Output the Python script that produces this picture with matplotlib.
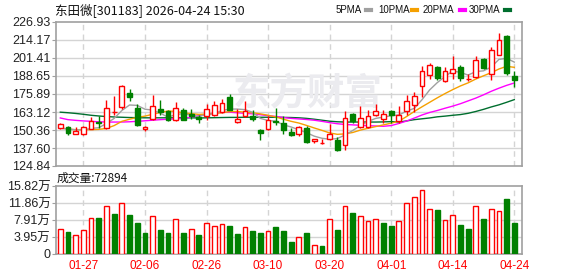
import numpy as np
import matplotlib
matplotlib.use('Agg')
from matplotlib import pyplot as plt

plt.rcParams['font.family'] = ['Liberation Sans', 'Noto Sans CJK SC', 'DejaVu Sans']

title = '东田微[301183] 2026-04-24 15:30'
vol_title = '成交量:72894'
date_pos = [3, 11, 19, 27, 35, 43, 51, 59]
date_labels = ['01-27', '02-06', '02-26', '03-10', '03-20', '04-01', '04-14', '04-24']

opens = [151.8, 152.5, 147.8, 147.5, 151.3, 155.8, 151.8, 163.0, 166.7, 176.8,
         166.0, 150.8, 158.4, 165.3, 163.6, 157.7, 164.5, 161.9, 159.6, 160.5,
         161.2, 163.1, 174.0, 156.3, 160.5, 160.5, 150.6, 151.1, 157.0, 155.3,
         148.7, 147.8, 151.8, 142.3, 141.0, 144.0, 143.1, 140.0, 161.7, 152.3,
         152.5, 160.8, 158.5, 163.6, 156.5, 164.1, 168.3, 181.3, 189.6, 195.0,
         184.9, 190.8, 195.0, 186.6, 187.9, 200.7, 190.3, 203.8, 217.2, 188.9]
closes = [154.6, 148.3, 149.9, 152.3, 156.5, 155.4, 166.0, 163.3, 181.8, 173.8,
          154.2, 152.5, 167.4, 162.9, 157.7, 166.0, 157.7, 160.1, 158.2, 165.3,
          168.1, 169.5, 164.8, 158.2, 163.6, 158.2, 148.3, 157.2, 155.8, 150.6,
          147.1, 152.5, 141.6, 144.0, 141.2, 147.8, 136.4, 158.9, 156.5, 158.9,
          160.1, 164.1, 161.5, 161.0, 161.2, 170.7, 174.2, 191.9, 196.2, 187.2,
          191.9, 193.6, 187.2, 186.8, 199.7, 194.3, 206.8, 214.4, 190.8, 186.0]
highs = [155.3, 153.0, 152.3, 153.0, 159.4, 160.1, 171.9, 174.7, 182.5, 179.7,
         168.8, 153.0, 175.4, 171.9, 164.8, 170.0, 166.0, 165.3, 161.2, 169.0,
         170.7, 172.3, 176.1, 165.3, 170.7, 164.8, 151.3, 160.1, 166.0, 160.5,
         151.8, 153.0, 153.5, 144.0, 144.0, 154.9, 145.4, 163.6, 162.4, 167.1,
         164.3, 169.0, 164.8, 164.8, 167.1, 175.0, 177.3, 195.5, 197.9, 195.5,
         194.8, 202.6, 196.2, 190.1, 202.6, 201.4, 209.0, 219.1, 217.9, 191.9]
lows = [151.1, 146.8, 147.8, 146.8, 151.3, 151.8, 151.1, 161.2, 165.3, 170.7,
        153.0, 149.4, 157.7, 161.2, 156.5, 156.5, 157.2, 158.2, 155.3, 157.2,
        160.1, 162.4, 164.3, 155.3, 159.6, 157.0, 143.5, 150.6, 154.1, 147.8,
        146.4, 145.9, 141.2, 141.2, 140.7, 143.5, 135.3, 135.9, 155.3, 151.8,
        151.8, 160.1, 155.3, 155.3, 155.3, 161.2, 162.9, 173.8, 186.8, 185.6,
        184.2, 186.8, 185.3, 184.9, 187.2, 193.9, 186.0, 203.8, 189.1, 180.6]

ma5 = [151.6, 151.0, 150.5, 150.4, 151.5, 152.0, 155.0, 158.6, 164.2, 168.1,
       167.8, 165.1, 164.5, 162.2, 159.5, 161.3, 162.0, 160.9, 159.9, 161.5,
       161.9, 164.2, 165.2, 165.2, 164.8, 162.9, 158.6, 157.1, 156.6, 154.0,
       152.5, 150.5, 148.5, 146.0, 144.5, 143.8, 144.3, 146.8, 150.0, 153.5,
       156.5, 158.6, 159.5, 160.5, 161.0, 163.7, 165.7, 171.8, 178.8, 184.0,
       188.3, 192.2, 191.2, 189.3, 191.8, 192.3, 195.0, 200.4, 201.2, 198.5]
ma10 = [152.0, 151.0, 150.6, 150.6, 150.6, 150.8, 151.5, 153.5, 156.5, 158.0,
        159.3, 160.2, 161.5, 162.8, 163.8, 163.6, 162.4, 162.0, 161.4, 161.6,
        162.2, 162.6, 163.4, 163.5, 163.0, 162.6, 161.8, 160.8, 159.6, 158.0,
        156.5, 155.3, 153.6, 151.8, 150.1, 148.3, 147.3, 147.6, 148.6, 150.3,
        151.6, 152.8, 154.0, 155.2, 156.6, 159.9, 163.5, 166.8, 170.0, 173.2,
        176.2, 179.0, 181.6, 183.8, 186.5, 188.8, 191.0, 193.6, 195.5, 194.8]
ma20 = [158.9, 157.7, 157.2, 156.8, 156.5, 156.2, 156.0, 156.0, 156.0, 156.2,
        156.5, 156.9, 157.3, 157.7, 158.0, 158.3, 158.6, 159.5, 160.5, 161.5,
        162.3, 162.8, 163.0, 162.6, 162.2, 161.8, 161.2, 160.5, 160.0, 159.2,
        158.6, 158.2, 157.8, 157.3, 156.5, 155.6, 154.8, 154.3, 154.0, 153.7,
        153.4, 153.2, 153.0, 153.5, 155.0, 156.7, 158.8, 161.0, 162.8, 164.2,
        165.8, 167.3, 169.0, 171.0, 173.0, 175.3, 177.8, 180.0, 182.0, 183.7]
ma30 = [163.0, 162.6, 162.1, 161.5, 160.8, 160.3, 159.9, 159.6, 159.4, 159.2,
        159.1, 159.0, 159.0, 159.0, 159.0, 159.0, 159.0, 159.0, 158.9, 159.0,
        159.1, 159.2, 159.3, 159.3, 159.4, 159.4, 159.4, 159.4, 159.4, 159.3,
        159.2, 159.0, 158.6, 158.0, 157.3, 156.6, 156.2, 156.0, 156.0, 156.0,
        156.0, 156.0, 156.1, 156.3, 156.0, 156.8, 157.7, 158.3, 158.9, 159.7,
        160.2, 160.8, 161.3, 162.2, 163.5, 165.0, 166.7, 168.2, 170.0, 171.9]

# volume in 万 (10k shares)
volumes = [5.87, 5.09, 4.46, 5.64, 8.46, 8.30, 11.28, 9.24, 11.82, 9.00,
           7.13, 4.78, 8.93, 5.48, 4.78, 8.22, 4.78, 5.87, 4.31, 7.28,
           6.58, 7.05, 6.42, 4.54, 6.34, 5.25, 4.78, 5.40, 6.19, 5.25,
           2.74, 3.84, 4.86, 2.19, 1.96, 8.07, 5.56, 11.12, 9.55, 8.77,
           7.60, 8.07, 7.20, 6.50, 7.60, 11.82, 13.23, 14.88, 10.42, 10.26,
           7.83, 9.00, 6.73, 5.79, 11.12, 8.14, 10.42, 9.94, 12.84, 7.29]
vol_up = [1, 0, 1, 1, 1, 0, 1, 0, 1, 0,
          0, 0, 1, 0, 0, 1, 0, 1, 0, 1,
          1, 1, 0, 0, 1, 0, 0, 1, 0, 0,
          0, 1, 0, 1, 0, 1, 0, 1, 0, 1,
          1, 1, 0, 0, 1, 1, 1, 1, 1, 0,
          1, 1, 0, 0, 1, 0, 1, 1, 0, 0]

price_ticks = [124.84, 137.60, 150.36, 163.12, 175.89, 188.65, 201.41, 214.17, 226.93]
vol_ticks = [0, 3.95, 7.91, 11.86, 15.82]
vol_tick_labels = ['0', '3.95万', '7.91万', '11.86万', '15.82万']

legend_names = ['5PMA', '10PMA', '20PMA', '30PMA']

RED = '#ff0000'
GREEN = '#008000'
MA_COLORS = ['#a0a0a0', '#f5a000', '#ff00ff', '#006e2e']
FRAME = '#a0a0a0'
GRID = '#d4d4d4'

W, H = 578, 276


def px_rect(left, top, right, bottom):
    return [left / W, 1 - bottom / H, (right - left) / W, (bottom - top) / H]


def style_axis(ax):
    for sp in ax.spines.values():
        sp.set_color(FRAME)
        sp.set_linewidth(1.2)
    ax.tick_params(axis='y', length=3, color=FRAME, labelsize=9, labelcolor='#222222', pad=1)
    ax.tick_params(axis='x', length=0)
    ax.set_xlim(-0.56, 60.0)
    ax.set_xticks(date_pos)
    for p in date_pos:
        ax.axvline(p, color=GRID, lw=1, ls=(0, (4, 3)), zorder=0)


fig = plt.figure(figsize=(W / 100, H / 100), dpi=100)
ax = fig.add_axes(px_rect(56, 22, 522, 166))
axv = fig.add_axes(px_rect(56, 186, 522, 254))

o = np.array(opens)
c = np.array(closes)
hi = np.array(highs)
lo = np.array(lows)
x = np.arange(len(c))
up = c >= o

# price panel
style_axis(ax)
ax.set_ylim(price_ticks[0], price_ticks[-1])
ax.set_yticks(price_ticks)
ax.set_yticklabels(['%.2f' % t for t in price_ticks])
ax.set_xticklabels([])
for t in price_ticks[1:-1]:
    ax.axhline(t, color=GRID, lw=1, zorder=0)

ax.text(0.54, 0.5, '东方财富', transform=ax.transAxes, fontsize=27, fontweight='bold',
        family=['Noto Sans CJK SC'], color='#ebebef', ha='center', va='center', zorder=0)

for vals, col in zip([ma30, ma20, ma10, ma5], MA_COLORS[::-1]):
    ax.plot(x, vals, color=col, lw=1, zorder=2)

colors = np.where(up, RED, GREEN)
ax.vlines(x, lo, hi, colors=colors, lw=1, zorder=3)
body_lo = np.minimum(o, c)
body_h = np.maximum(np.abs(c - o), 0.25)
ax.bar(x, body_h, bottom=body_lo, width=0.62,
       facecolor=np.where(up, 'white', GREEN), edgecolor=colors, lw=1, zorder=4)

# volume panel
style_axis(axv)
axv.set_ylim(vol_ticks[0], vol_ticks[-1])
axv.set_yticks(vol_ticks)
axv.set_yticklabels(vol_tick_labels)
for t in vol_ticks[1:-1]:
    axv.axhline(t, color=GRID, lw=1, zorder=0)
vup = np.array(vol_up) == 1
axv.bar(x, volumes, width=0.62, facecolor=np.where(vup, 'white', GREEN),
        edgecolor=np.where(vup, RED, GREEN), lw=1, zorder=3)
axv.set_xticklabels(date_labels, color=RED, fontsize=8.5)
axv.tick_params(axis='x', pad=4)

# header texts
fig.text(55 / W, 1 - 10 / H, title, fontsize=9, va='center', ha='left', color='#111111',
         family=['Noto Sans CJK SC'])
fig.text(57 / W, 1 - 178 / H, vol_title, fontsize=8.5, va='center', ha='left', color='#111111',
         family=['Noto Sans CJK SC'])

leg_x = [336, 378, 423, 469]
dash_x = [366, 412, 460, 505]
for name, lx, dx, col in zip(legend_names, leg_x, dash_x, MA_COLORS):
    fig.text(lx / W, 1 - 10 / H, name, fontsize=7, va='center', ha='left', color='#111111',
             family=['Liberation Sans Narrow', 'Liberation Sans'])
    fig.add_artist(plt.Line2D([dx / W, (dx + 5) / W], [1 - 10 / H, 1 - 10 / H], color=col, lw=3))

fig.savefig('out.png', dpi=100)
